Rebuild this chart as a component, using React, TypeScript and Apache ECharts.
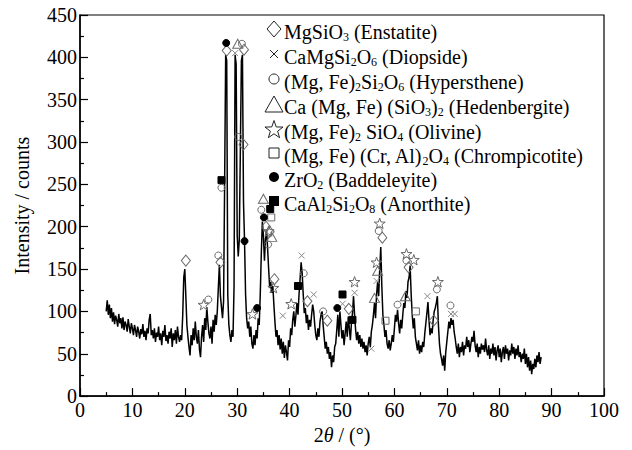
import React, { useEffect, useRef } from "react";
import * as echarts from "echarts";

// XRD scan: 2θ from 5° to 88° in 0.2° steps
const SCAN_START = 5;
const SCAN_STEP = 0.2;
const intensity = [
  100, 113, 96, 108, 92,
  104, 88, 99, 85, 95,
  90, 82, 97, 86, 92,
  80, 93, 78, 88, 84,
  76, 91, 82, 74, 86,
  80, 72, 84, 78, 70,
  82, 76, 68, 79, 73,
  85, 70, 77, 66, 80,
  74, 90, 97, 72, 78,
  68, 80, 64, 75, 70,
  82, 66, 74, 60, 77,
  70, 84, 65, 72, 62,
  76, 68, 80, 58, 74,
  66, 78, 62, 82, 70,
  64, 72, 66, 95, 140,
  150, 118, 84, 70, 58,
  48, 72, 60, 80, 66,
  88, 70, 62, 78, 55,
  46, 70, 84, 64, 92,
  78, 105, 88, 74, 68,
  82, 62, 90, 76, 96,
  84, 100, 128, 155, 118,
  105, 92, 112, 250, 403,
  396, 120, 85, 72, 64,
  78, 70, 130, 403, 392,
  190, 165, 185, 290, 396,
  403, 230, 183, 120, 92,
  80, 88, 70, 82, 62,
  56, 72, 60, 78, 68,
  92, 84, 120, 168, 206,
  190, 160, 185, 196, 175,
  150, 128, 135, 122, 130,
  108, 88, 70, 78, 60,
  72, 55, 68, 50, 64,
  45, 60, 52, 42, 66,
  58, 80, 72, 90, 100,
  82, 95, 110, 96, 120,
  138, 158, 145, 120, 98,
  104, 86, 96, 78, 90,
  82, 96, 108, 100, 84,
  72, 66, 80, 70, 88,
  96, 100, 84, 70, 56,
  64, 50, 58, 44, 52,
  34, 48, 40, 58, 62,
  78, 96, 70, 100, 84,
  68, 78, 60, 74, 88,
  70, 94, 80, 66, 86,
  98, 118, 96, 78, 66,
  76, 62, 72, 58, 68,
  56, 64, 52, 60, 48,
  62, 70, 58, 76, 84,
  96, 110, 92, 120, 135,
  118, 150, 176, 130, 96,
  84, 70, 78, 62, 56,
  66, 54, 62, 72, 64,
  80, 96, 88, 102, 86,
  74, 90, 80, 96, 110,
  104, 124, 116, 135, 140,
  154, 120, 96, 80, 92,
  70, 62, 54, 66, 50,
  60, 52, 64, 58, 74,
  86, 98, 111, 90, 72,
  80, 74, 90, 100, 104,
  110, 118, 84, 62, 50,
  44, 36, 48, 30, 52,
  64, 76, 88, 80, 92,
  84, 90, 76, 68, 58,
  50, 62, 46, 58, 52,
  64, 48, 60, 56, 70,
  58, 66, 52, 62, 70,
  64, 77, 60, 52, 62,
  46, 58, 50, 62, 55,
  60, 52, 68, 54, 48,
  60, 44, 56, 50, 62,
  48, 58, 42, 54, 60,
  46, 56, 40, 52, 58,
  44, 60, 50, 56, 42,
  54, 48, 62, 50, 58,
  44, 56, 48, 60, 46,
  52, 40, 50, 44, 56,
  38, 50, 34, 46, 30,
  42, 26, 38, 32, 44,
  34, 48, 40, 52, 38,
  46,
];

// Phase markers [2θ, intensity]
const enstatite = [[20.2, 160], [26.8, 158], [28.0, 408], [31.3, 409], [31.2, 297], [35.5, 200], [36.2, 194], [37.1, 138], [43.4, 112], [47.2, 89], [51.3, 103], [57.7, 187], [62.7, 152], [67.5, 89]];
const diopside = [[29.6, 405], [38.7, 95], [42.3, 166], [44.6, 120], [50.1, 109], [52.4, 122], [55.6, 56], [56.6, 136], [66.3, 118], [70.8, 97], [71.5, 97]];
const hypersthene = [[24.5, 114], [26.4, 166], [27.0, 246], [30.9, 416], [30.2, 306], [34.6, 220], [35.9, 179], [42.7, 145], [46.4, 100], [57.0, 195], [60.6, 108], [62.3, 160], [68.1, 126], [70.7, 107]];
const hedenbergite = [[30.1, 416], [35.0, 233], [36.6, 188], [56.2, 116], [56.8, 148], [62.1, 118]];
const olivine = [[23.6, 108], [32.9, 97], [36.0, 195], [36.9, 128], [40.3, 109], [52.4, 135], [56.6, 158], [57.2, 204], [62.3, 168], [63.7, 161], [68.3, 135]];
const chrompicotite = [[36.5, 211], [58.3, 89], [64.1, 100]];
const baddeleyite = [[27.9, 417], [31.4, 183], [33.8, 104], [35.1, 211], [49.1, 104]];
const anorthite = [[27.0, 255], [36.3, 221], [41.6, 130], [50.1, 120], [52.0, 90]];

const legendLabels = [
  "{n|MgSiO}{s|3}{n| (Enstatite)}",
  "{n|CaMgSi}{s|2}{n|O}{s|6}{n| (Diopside)}",
  "{n|(Mg, Fe)}{s|2}{n|Si}{s|2}{n|O}{s|6}{n| (Hypersthene)}",
  "{n|Ca (Mg, Fe) (SiO}{s|3}{n|)}{s|2}{n| (Hedenbergite)}",
  "{n|(Mg, Fe)}{s|2}{n| SiO}{s|4}{n| (Olivine)}",
  "{n|(Mg, Fe) (Cr, Al)}{s|2}{n|O}{s|4}{n| (Chrompicotite)}",
  "{n|ZrO}{s|2}{n| (Baddeleyite)}",
  "{n|CaAl}{s|2}{n|Si}{s|2}{n|O}{s|8}{n| (Anorthite)}",
];

const FONT = "'Liberation Serif', 'Times New Roman', serif";
const GRAY = "#6a6a6a";
const STAR = "path://M0,-10L2.35,-3.24L9.51,-3.09L3.8,1.24L5.88,8.09L0,4L-5.88,8.09L-3.8,1.24L-9.51,-3.09L-2.35,-3.24Z";
const CROSS = "path://M0,0L10,10M10,0L0,10";

function starPoints(cx: number, cy: number, r: number) {
  const pts: number[][] = [];
  for (let k = 0; k < 10; k++) {
    const ang = (-90 + k * 36) * Math.PI / 180;
    const rr = k % 2 === 0 ? r : r * 0.4;
    pts.push([cx + rr * Math.cos(ang), cy + rr * Math.sin(ang)]);
  }
  return pts;
}

function legendSymbol(kind: string, cx: number, cy: number): any {
  const st = { fill: "#fff", stroke: "#222", lineWidth: 1 };
  switch (kind) {
    case "diamond":
      return { type: "polygon", shape: { points: [[cx, cy - 8], [cx + 7, cy], [cx, cy + 8], [cx - 7, cy]] }, style: st };
    case "cross":
      return {
        type: "group",
        children: [
          { type: "line", shape: { x1: cx - 4, y1: cy - 4, x2: cx + 4, y2: cy + 4 }, style: { stroke: "#222", lineWidth: 1 } },
          { type: "line", shape: { x1: cx + 4, y1: cy - 4, x2: cx - 4, y2: cy + 4 }, style: { stroke: "#222", lineWidth: 1 } },
        ],
      };
    case "circle":
      return { type: "circle", shape: { cx, cy, r: 5 }, style: st };
    case "triangle":
      return { type: "polygon", shape: { points: [[cx, cy - 8], [cx + 9, cy + 8], [cx - 9, cy + 8]] }, style: st };
    case "star":
      return { type: "polygon", shape: { points: starPoints(cx, cy + 1, 9.5) }, style: st };
    case "rect":
      return { type: "rect", shape: { x: cx - 5, y: cy - 5, width: 10, height: 10 }, style: st };
    case "dot":
      return { type: "circle", shape: { cx, cy, r: 5 }, style: { fill: "#000" } };
    default:
      return { type: "rect", shape: { x: cx - 5, y: cy - 5, width: 10, height: 10 }, style: { fill: "#000" } };
  }
}

export default function App() {
  const ref = useRef<HTMLDivElement>(null);
  useEffect(() => {
    if (!ref.current) return;
    const chart = echarts.init(ref.current, undefined, { renderer: "svg" });
    const scan = intensity.map((v, i) => [+(SCAN_START + i * SCAN_STEP).toFixed(1), v]);

    const phases = [
      { name: "Enstatite", data: enstatite, symbol: "diamond", size: [9, 11], fill: "rgba(255,255,255,0)", stroke: GRAY },
      { name: "Diopside", data: diopside, symbol: CROSS, size: 6, fill: "rgba(255,255,255,0)", stroke: "#888" },
      { name: "Hypersthene", data: hypersthene, symbol: "circle", size: 7, fill: "rgba(255,255,255,0)", stroke: GRAY },
      { name: "Hedenbergite", data: hedenbergite, symbol: "triangle", size: [10, 9], fill: "rgba(255,255,255,0)", stroke: GRAY },
      { name: "Olivine", data: olivine, symbol: STAR, size: 11, fill: "rgba(255,255,255,0)", stroke: GRAY },
      { name: "Chrompicotite", data: chrompicotite, symbol: "rect", size: 7, fill: "rgba(255,255,255,0)", stroke: GRAY },
      { name: "Baddeleyite", data: baddeleyite, symbol: "circle", size: 7, fill: "#000", stroke: "#000" },
      { name: "Anorthite", data: anorthite, symbol: "rect", size: 7, fill: "#000", stroke: "#000" },
    ];

    const rowsY = [29, 54, 79, 104, 129, 153, 177, 201];
    const kinds = ["diamond", "cross", "circle", "triangle", "star", "rect", "dot", "square"];
    const legendEls: any[] = [];
    rowsY.forEach((y, i) => {
      legendEls.push(legendSymbol(kinds[i], 274, y));
      legendEls.push({
        type: "text",
        x: 284,
        y: y + 2,
        style: {
          text: legendLabels[i],
          verticalAlign: "middle",
          align: "left",
          rich: {
            n: { fontSize: 20, fontFamily: FONT, fill: "#000", lineHeight: 18, verticalAlign: "top" },
            s: { fontSize: 12, fontFamily: FONT, fill: "#000", lineHeight: 10, padding: [9, 0, 0, 0], verticalAlign: "top" },
          },
        },
      });
    });

    chart.setOption({
      animation: false,
      backgroundColor: "#fff",
      grid: { left: 80, right: 28, top: 15, bottom: 51, show: true, borderColor: "#000", borderWidth: 1.2 },
      xAxis: {
        type: "value",
        min: 0,
        max: 100,
        interval: 10,
        name: "{n|2}{i|θ}{n| / (°)}",
        nameLocation: "middle",
        nameGap: 23,
        nameTextStyle: {
          rich: {
            n: { fontSize: 20, fontFamily: FONT, color: "#000" },
            i: { fontSize: 20, fontFamily: FONT, color: "#000", fontStyle: "italic" },
          },
        },
        axisLine: { lineStyle: { color: "#000", width: 1.5 } },
        axisTick: { inside: true, length: 8, lineStyle: { color: "#000", width: 1.2 } },
        minorTick: { show: true, splitNumber: 2, length: 4, lineStyle: { color: "#000", width: 1.2 } },
        axisLabel: { fontSize: 20, fontFamily: FONT, color: "#000", margin: 4 },
        splitLine: { show: false },
      },
      yAxis: {
        type: "value",
        min: 0,
        max: 450,
        interval: 50,
        name: "Intensity / counts",
        nameLocation: "middle",
        nameGap: 48,
        nameTextStyle: { fontSize: 20, fontFamily: FONT, color: "#000" },
        axisLine: { show: true, lineStyle: { color: "#000", width: 1.5 } },
        axisTick: { show: true, inside: true, length: 8, lineStyle: { color: "#000", width: 1.2 } },
        minorTick: { show: true, splitNumber: 2, length: 4, lineStyle: { color: "#000", width: 1.2 } },
        axisLabel: { fontSize: 20, fontFamily: FONT, color: "#000", margin: 3 },
        splitLine: { show: false },
      },
      graphic: legendEls,
      series: [
        {
          type: "line",
          data: scan,
          showSymbol: false,
          symbol: "none",
          lineStyle: { color: "#000", width: 1.5 },
          z: 2,
        },
        ...phases.map((p) => ({
          type: "scatter",
          name: p.name,
          data: p.data,
          symbol: p.symbol,
          symbolSize: p.size,
          symbolKeepAspect: true,
          itemStyle: { color: p.fill, borderColor: p.stroke, borderWidth: 1, opacity: 1 },
          z: 3,
        })),
      ],
    });
    return () => chart.dispose();
  }, []);
  return <div ref={ref} style={{ width: 632, height: 450, position: "absolute", left: 0, top: 0 }} />;
}
